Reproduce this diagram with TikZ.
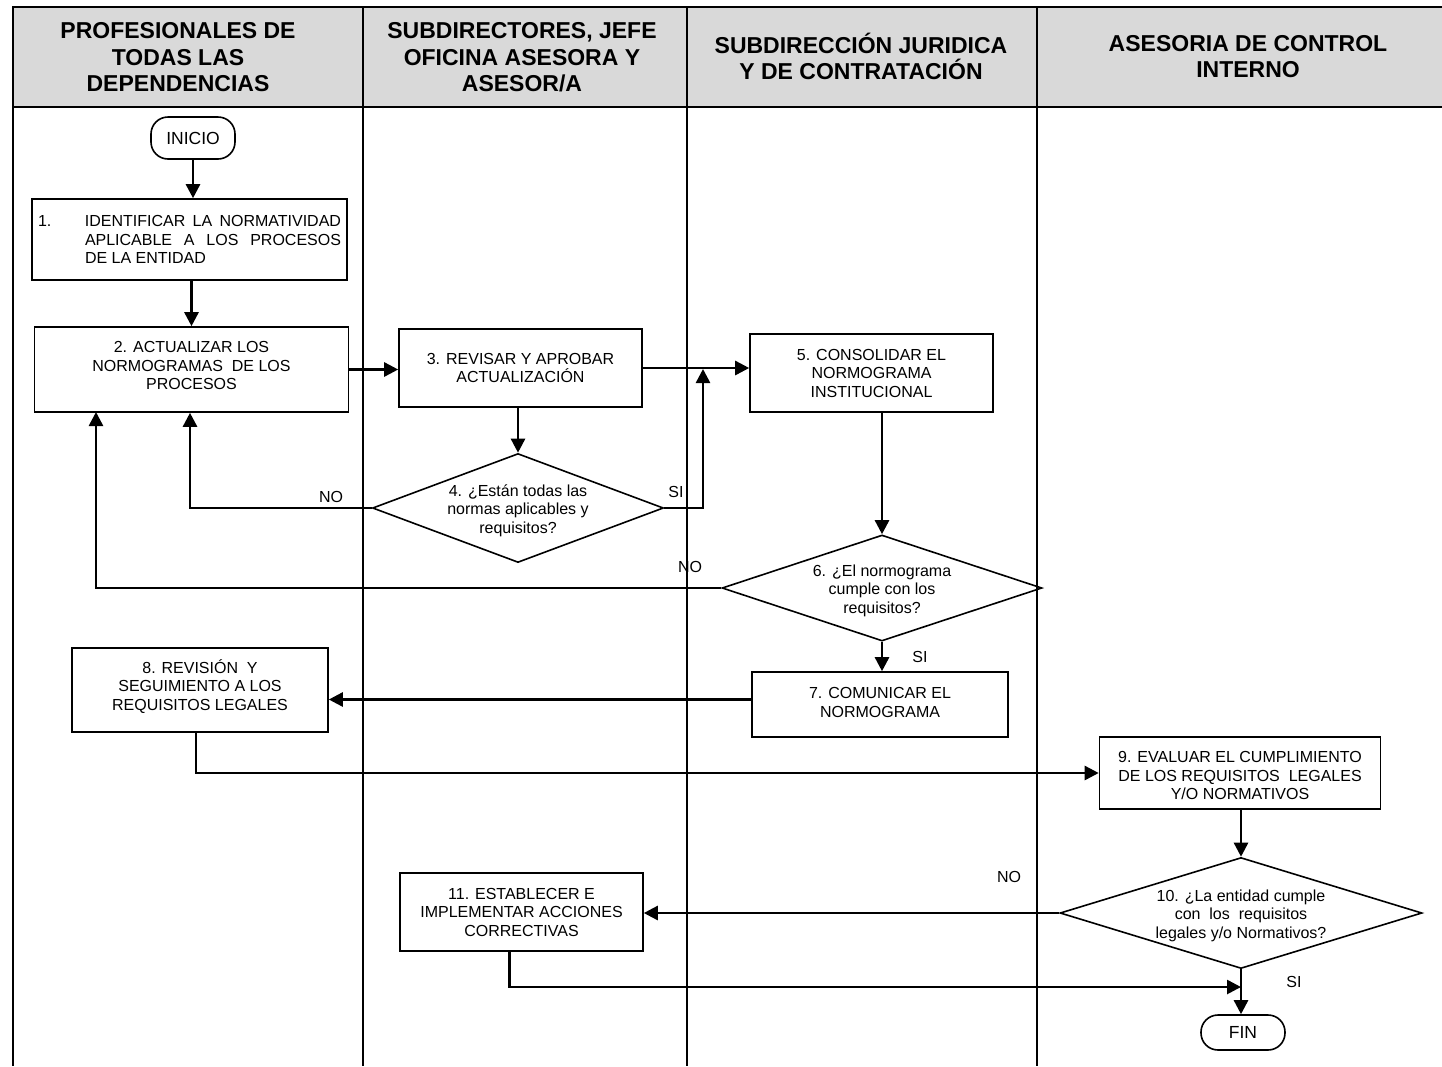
\documentclass[tikz,border=0pt]{standalone}
\usepackage{fontspec}
\setmainfont{Liberation Sans}
\usetikzlibrary{arrows.meta,shapes.geometric,calc}
\definecolor{hdrgray}{RGB}{217,217,217}
\begin{document}
\begin{tikzpicture}[x=1pt,y=-1pt,
  box/.style={draw,line width=1.6pt,inner sep=0pt,align=center,font=\fontsize{16}{18.5}\selectfont},
  dec/.style={draw,diamond,line width=1.6pt,inner sep=0pt},
  term/.style={draw,line width=1.6pt,rounded corners=17pt,inner sep=0pt,font=\fontsize{17.5}{20}\selectfont},
  txt/.style={align=center,font=\fontsize{16}{18.5}\selectfont,inner sep=0pt},
  lbl/.style={font=\fontsize{16}{18}\selectfont,inner sep=0pt},
  arr/.style={line width=2.6pt,-{Triangle[length=14pt,width=14pt]}},
  lane/.style={line width=2pt},
  hdr/.style={align=center,font=\fontsize{23}{26.5}\selectfont\bfseries,inner sep=0pt}
]
\useasboundingbox (0,0) rectangle (1442,1066);
% header and lanes
\fill[hdrgray] (13,7) rectangle (1442,107);
\draw[line width=2.5pt] (1442,7) -- (13,7) -- (13,1066);
\draw[line width=2.5pt] (13,107) -- (1442,107);
\foreach \x in {363,687,1037} \draw[lane] (\x,7) -- (\x,1066);
\node[hdr] (h1) at (178,57.5) {PROFESIONALES DE\\TODAS LAS\\DEPENDENCIAS};
\node[hdr] (h2) at (522,57.5) {SUBDIRECTORES, JEFE\\OFICINA ASESORA Y\\ASESOR/A};
\node[hdr] (h3) at (861,56.5) {SUBDIRECCIÓN JURIDICA\\Y DE CONTRATACIÓN};
\node[hdr] (h4) at (1248,56.5) {ASESORIA DE CONTROL\\INTERNO};

% nodes
\node[term, minimum width=84pt, minimum height=42pt] (inicio) at (193,138) {INICIO};
\node[box, minimum width=315pt, minimum height=81pt, align=left] (n1) at (189.5,239.5)
  {\makebox[47pt][l]{1.}\parbox[t]{256pt}{IDENTIFICAR LA NORMATIVIDAD\linebreak APLICABLE A LOS PROCESOS\linebreak DE LA ENTIDAD}};
\node[box, minimum width=314pt, minimum height=85pt] (n2) at (191.5,369.5) {};
\node[txt] (n2t) at (191.5,365.5) {2. ACTUALIZAR LOS\\NORMOGRAMAS~ DE LOS\\PROCESOS};
\node[box, minimum width=243pt, minimum height=78pt] (n3) at (520.5,368) {3. REVISAR Y APROBAR\\ACTUALIZACIÓN};
\node[box, minimum width=243pt, minimum height=78pt] (n5) at (871.5,373) {5. CONSOLIDAR EL\\NORMOGRAMA\\INSTITUCIONAL};
\node[dec, minimum width=291pt, minimum height=109pt] (d4) at (518,508) {};
\node[txt] (d4t) at (518,510.5) {4. ¿Están todas las\\normas aplicables y\\requisitos?};
\node[dec, minimum width=320pt, minimum height=106pt] (d6) at (882,588) {};
\node[txt] (d6t) at (882,590.5) {6. ¿El normograma\\cumple con los\\requisitos?};
\node[box, minimum width=256pt, minimum height=65pt] (n7) at (880,704.5) {};
\node[txt] (n7t) at (880,702.5) {7. COMUNICAR EL\\NORMOGRAMA};
\node[box, minimum width=256pt, minimum height=84pt] (n8) at (200,690) {};
\node[txt] (n8t) at (200,686.5) {8. REVISIÓN~ Y\\SEGUIMIENTO A LOS\\REQUISITOS LEGALES};
\node[box, minimum width=281pt, minimum height=72pt] (n9) at (1240,773) {};
\node[txt] (n9t) at (1240,775.5) {9. EVALUAR EL CUMPLIMIENTO\\DE LOS REQUISITOS~ LEGALES\\Y/O NORMATIVOS};
\node[dec, minimum width=362pt, minimum height=111pt] (d10) at (1241,913) {};
\node[txt] (d10t) at (1241,915.5) {10. ¿La entidad cumple\\con~ los~ requisitos\\legales y/o Normativos?};
\node[box, minimum width=243pt, minimum height=78pt] (n11) at (521.5,912) {11. ESTABLECER E\\IMPLEMENTAR ACCIONES\\CORRECTIVAS};
\node[term, minimum width=84pt, minimum height=35pt] (fin) at (1243,1032.5) {FIN};

% labels
\node[lbl] (no4) at (331,497) {NO};
\node[lbl] (si4) at (676,492) {SI};
\node[lbl] (no6) at (690,567) {NO};
\node[lbl] (si6) at (920,657) {SI};
\node[lbl] (no10) at (1009,877) {NO};
\node[lbl] (si10) at (1294,982) {SI};

% junction coordinates
\coordinate (j4) at (703,369);
\coordinate (j6) at (96,412);
\coordinate (j10) at (1241,987);

% connectors
\draw[arr] (inicio.south) -- (inicio.south |- n1.north);
\draw[arr] (n2.north |- n1.south) -- (n2.north);
\draw[arr] (n2.east) -- (n2.east -| n3.west);
\draw[arr] (n3.east) -- (n3.east -| n5.west);
\draw[arr] (d4.north |- n3.south) -- (d4.north);
\draw[arr] (d4.west) -| ([xshift=-1.5pt]n2.south);
\draw[arr] (d4.east) -| (j4);
\draw[arr] (d6.north |- n5.south) -- (d6.north);
\draw[arr] (d6.west) -| (j6);
\draw[arr] (d6.south) -- (d6.south |- n7.north);
\draw[arr] ([yshift=5pt]n7.west) -- ([yshift=5pt]n7.west -| n8.east);
\draw[arr] ([xshift=-4pt]n8.south) |- (n9.west);
\draw[arr] (d10.north |- n9.south) -- (d10.north);
\draw[arr] (d10.west) -- (d10.west -| n11.east);
\draw[arr] ([xshift=-12pt]n11.south) |- (j10);
\draw[arr] (d10.south) -- (d10.south |- fin.north);
\end{tikzpicture}
\end{document}
